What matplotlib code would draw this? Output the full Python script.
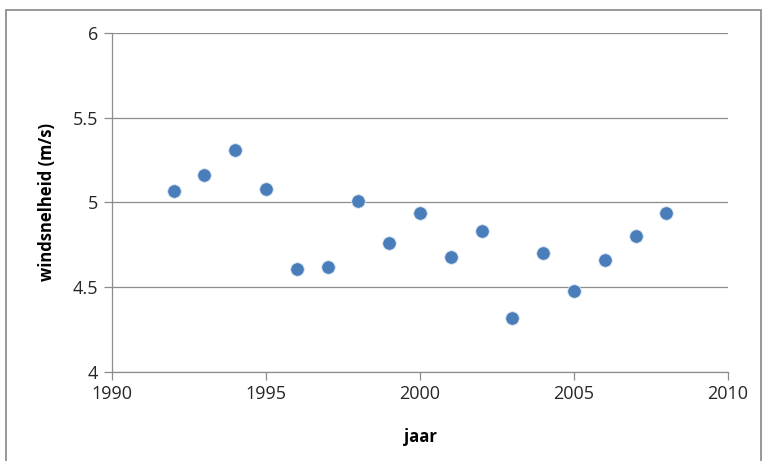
import matplotlib.pyplot as plt
from matplotlib.patches import Rectangle

# -----------------------------
# DATA
# -----------------------------
years = [1992, 1993, 1994, 1995, 1996, 1997, 1998, 1999, 2000,
         2001, 2002, 2003, 2004, 2005, 2006, 2007, 2008]
wind_speed = [5.07, 5.16, 5.31, 5.08, 4.61, 4.62, 5.01, 4.76, 4.94,
              4.68, 4.83, 4.32, 4.70, 4.48, 4.66, 4.80, 4.94]
x_ticks = [1990, 1995, 2000, 2005, 2010]
y_ticks = [4, 4.5, 5, 5.5, 6]
y_tick_labels = ["4", "4.5", "5", "5.5", "6"]

plt.rcParams['font.family'] = ['Open Sans', 'DejaVu Sans']

fig = plt.figure(figsize=(7.64, 4.61), dpi=100)
ax = fig.add_axes([0.1466, 0.1931, 0.8063, 0.7353])

# outer chart frame
fig.patches.append(Rectangle((6 / 764, -0.05), 755 / 764, 1 - 10 / 461 + 0.05,
                             transform=fig.transFigure, fill=False,
                             edgecolor="#868686", linewidth=1.2))

ax.scatter(years, wind_speed, s=95, color="#4a7ebb", edgecolors="#dbe4f0",
           linewidths=0.6, zorder=3)

ax.set_xlim(1990, 2010)
ax.set_ylim(4, 6)
ax.set_xticks(x_ticks)
ax.set_yticks(y_ticks)
ax.set_yticklabels(y_tick_labels)

ax.grid(axis="y", color="#8c8c8c", linewidth=0.9)
ax.set_axisbelow(True)
for side in ["top", "right"]:
    ax.spines[side].set_visible(False)
for side in ["left", "bottom"]:
    ax.spines[side].set_color("#8c8c8c")
    ax.spines[side].set_linewidth(0.9)

ax.tick_params(axis="both", colors="#8c8c8c", length=6, width=0.9,
               labelsize=13, labelcolor="#262626")
ax.tick_params(axis="y", pad=4)

ax.set_xlabel("jaar", fontsize=12, fontweight="bold", labelpad=18)
ax.set_ylabel("windsnelheid (m/s)", fontsize=12, fontweight="bold", labelpad=12)

fig.savefig("out.png", dpi=100)
